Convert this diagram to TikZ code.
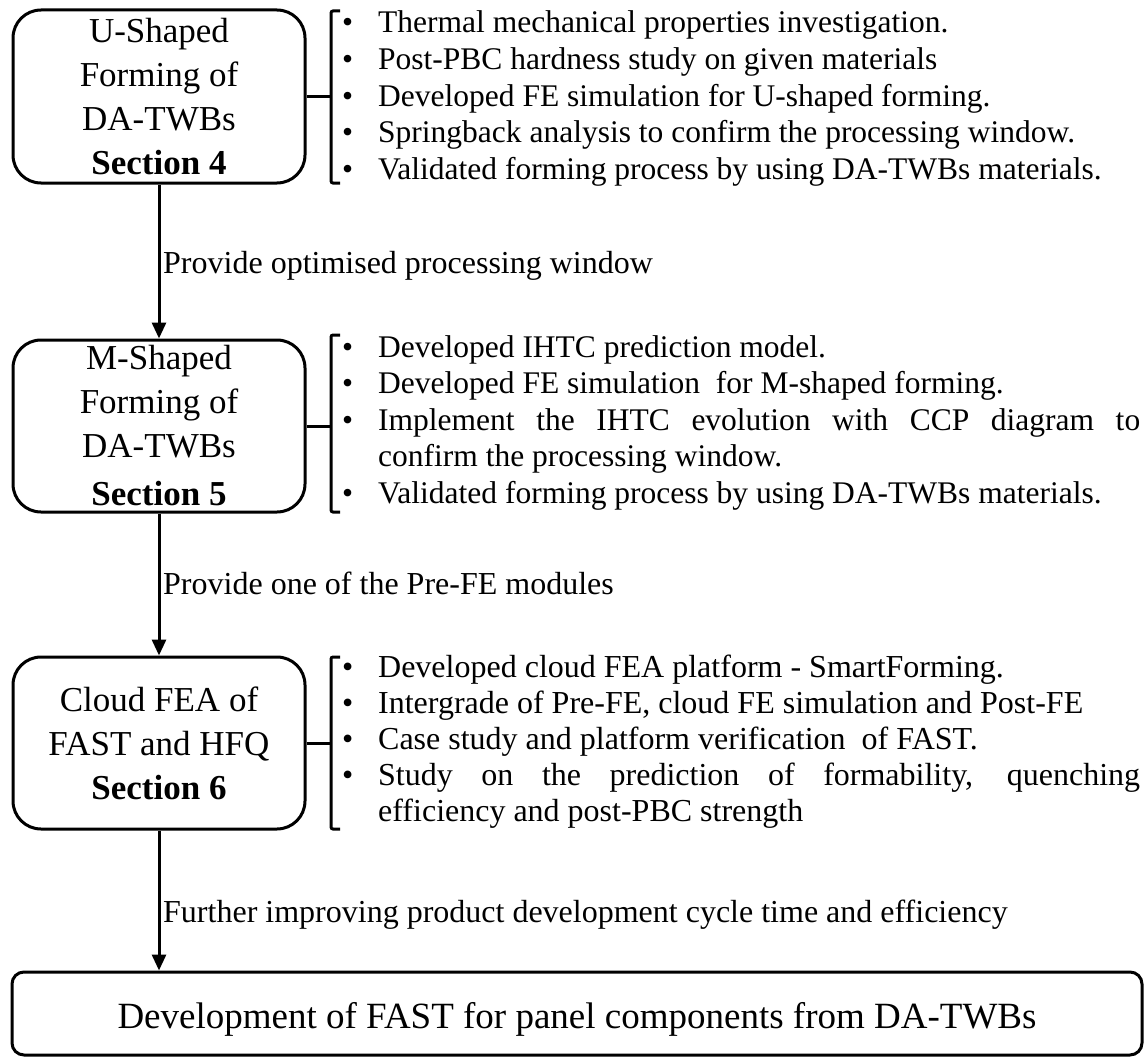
\documentclass[tikz,border=0pt]{standalone}
\usepackage{fontspec}
\setmainfont{Liberation Serif}
\usetikzlibrary{arrows.meta}
\newcommand{\bitem}[1]{\noindent\hangindent=38pt\hangafter=1\relax\makebox[38pt][l]{\hspace{2pt}\textbullet}#1\par}
\tikzset{
  boxnode/.style={draw, line width=3pt, rounded corners=28pt, align=center, inner sep=0pt,
    font=\fontsize{35}{44}\selectfont},
  finalnode/.style={draw, line width=3pt, rounded corners=12pt, align=center, inner sep=0pt,
    font=\fontsize{37}{44}\selectfont},
  listtext/.style={anchor=base west, inner sep=0pt, text width=800pt, align=justify,
    font=\fontsize{31.5}{36.6}\selectfont},
  labeltext/.style={anchor=base west, inner sep=0pt, font=\fontsize{32}{38}\selectfont},
  arrowline/.style={line width=3pt, -{Triangle[length=16pt,width=14pt]}},
  connline/.style={line width=3pt},
  bracketline/.style={line width=3pt, rounded corners=2pt},
}
\begin{document}
\tolerance=10000\relax
\hyphenpenalty=10000\relax
\begin{tikzpicture}[x=1pt,y=-1pt]
\useasboundingbox (0,0) rectangle (1144,1057);
\fill[white] (0,0) rectangle (1144,1057);

% boxes
\node[boxnode, minimum width=292pt, minimum height=173pt] (box1) at (159,96.5)
  {U-Shaped\\Forming of\\DA-TWBs\\\textbf{Section 4}};
\node[boxnode, minimum width=292pt, minimum height=172pt] (box2) at (159,426)
  {M-Shaped\\Forming of\\DA-TWBs\\[4pt]\textbf{Section 5}};
\node[boxnode, minimum width=292pt, minimum height=172pt] (box3) at (159,743)
  {Cloud FEA of\\FAST and HFQ\\\textbf{Section 6}};
\node[finalnode, minimum width=1130pt, minimum height=83pt, text height=29pt, text depth=0pt] (final) at (577,1013.5)
  {Development of FAST for panel components from DA-TWBs};

% brackets
\coordinate (b1) at (331,96.5);
\coordinate (b2) at (331,426);
\coordinate (b3) at (331,743);
\draw[bracketline] (340,11) -- (331,11) -- (331,183) -- (340,183);
\draw[bracketline] (340,335) -- (331,335) -- (331,512) -- (340,512);
\draw[bracketline] (340,657) -- (331,657) -- (331,829) -- (340,829);
\draw[connline] (box1.east) -- (b1);
\draw[connline] (box2.east) -- (b2);
\draw[connline] (box3.east) -- (b3);

% lists
\node[listtext] (list1) at (340,33) {%
\bitem{Thermal mechanical properties investigation.}
\bitem{Post-PBC hardness study on given materials}
\bitem{Developed FE simulation for U-shaped forming.}
\bitem{Springback analysis to confirm the processing window.}
\bitem{Validated forming process by using DA-TWBs materials.}};

\node[listtext] (list2) at (340,357) {%
\bitem{Developed IHTC prediction model.}
\bitem{Developed FE simulation\ \ for M-shaped forming.}
\bitem{Implement the IHTC evolution with CCP diagram to\linebreak confirm the processing window.}
\bitem{Validated forming process by using DA-TWBs materials.}};

\node[listtext, font=\fontsize{32}{36}\selectfont] (list3) at (340,677) {%
\bitem{Developed cloud FEA platform - SmartForming.}
\bitem{Intergrade of Pre-FE, cloud FE simulation and Post-FE}
\bitem{Case study and platform verification\ \ of FAST.}
\bitem{Study on the prediction of formability, quenching\linebreak efficiency and post-PBC strength}};

% arrows
\draw[arrowline] (box1.south) -- (box2.north);
\draw[arrowline] (box2.south) -- (box3.north);
\draw[arrowline] (box3.south) -- (box3.south |- final.north);

% labels
\node[labeltext] (lab1) at (163,273) {Provide optimised processing window};
\node[labeltext] (lab2) at (163,594) {Provide one of the Pre-FE modules};
\node[labeltext] (lab3) at (163,922) {Further improving product development cycle time and efficiency};
\end{tikzpicture}
\end{document}
